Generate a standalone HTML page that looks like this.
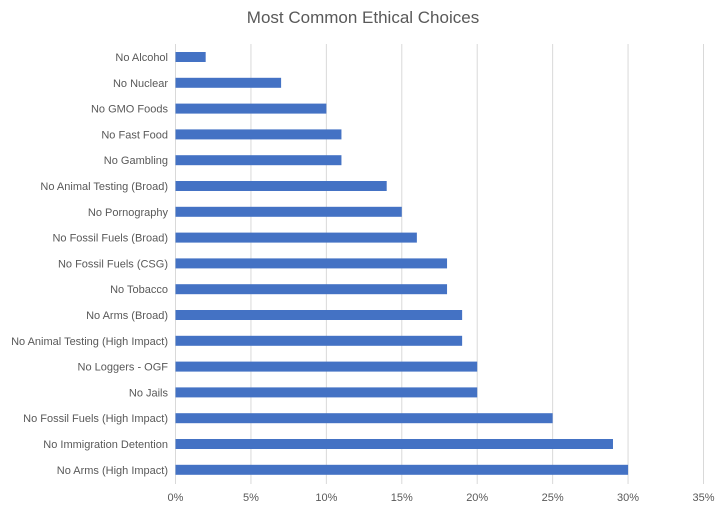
<!DOCTYPE html>
<html><head><meta charset="utf-8"><style>
body{margin:0;background:#fff;font-family:"Liberation Sans",sans-serif}
</style></head><body>
<svg id="c" width="726" height="512">
<text x="363" y="23" text-anchor="middle" font-size="17" fill="#595959">Most Common Ethical Choices</text>
<g id="grid"></g><g id="bars"></g><g id="labels"></g>
</svg>
<script>
const categories=["No Alcohol","No Nuclear","No GMO Foods","No Fast Food","No Gambling","No Animal Testing (Broad)","No Pornography","No Fossil Fuels (Broad)","No Fossil Fuels (CSG)","No Tobacco","No Arms (Broad)","No Animal Testing (High Impact)","No Loggers - OGF","No Jails","No Fossil Fuels (High Impact)","No Immigration Detention","No Arms (High Impact)"];
const values=[2,7,10,11,11,14,15,16,18,18,19,19,20,20,25,29,30];
const ticks=[0,5,10,15,20,25,30,35];
const tickLabels=["0%","5%","10%","15%","20%","25%","30%","35%"];
const NS="http://www.w3.org/2000/svg";
const x=v=>175.5+v*(528/35);
const y=i=>57+i*25.8;
function mk(t,a,p){const e=document.createElementNS(NS,t);for(const k in a)e.setAttribute(k,a[k]);p.appendChild(e);return e;}
const g=document.getElementById('grid'),b=document.getElementById('bars'),l=document.getElementById('labels');
ticks.forEach((t,i)=>{
 const ln=mk('line',{x1:x(t),x2:x(t),y1:44,y2:484,stroke:'#d9d9d9','stroke-width':1},g);
 
 
 const tx=mk('text',{x:x(t),y:501,'text-anchor':'middle','font-size':11,fill:'#595959'},l);
 tx.textContent=tickLabels[i];
 
 
});
categories.forEach((c,i)=>{
 const r=mk('rect',{x:x(0),y:y(i)-5,width:x(values[i])-x(0),height:10,fill:'#4472c4'},b);
 
 
 const t=mk('text',{x:168,y:y(i)+4,'text-anchor':'end','font-size':11,fill:'#595959'},l);
 t.textContent=c;
 
 
});
</script>
</body></html>
